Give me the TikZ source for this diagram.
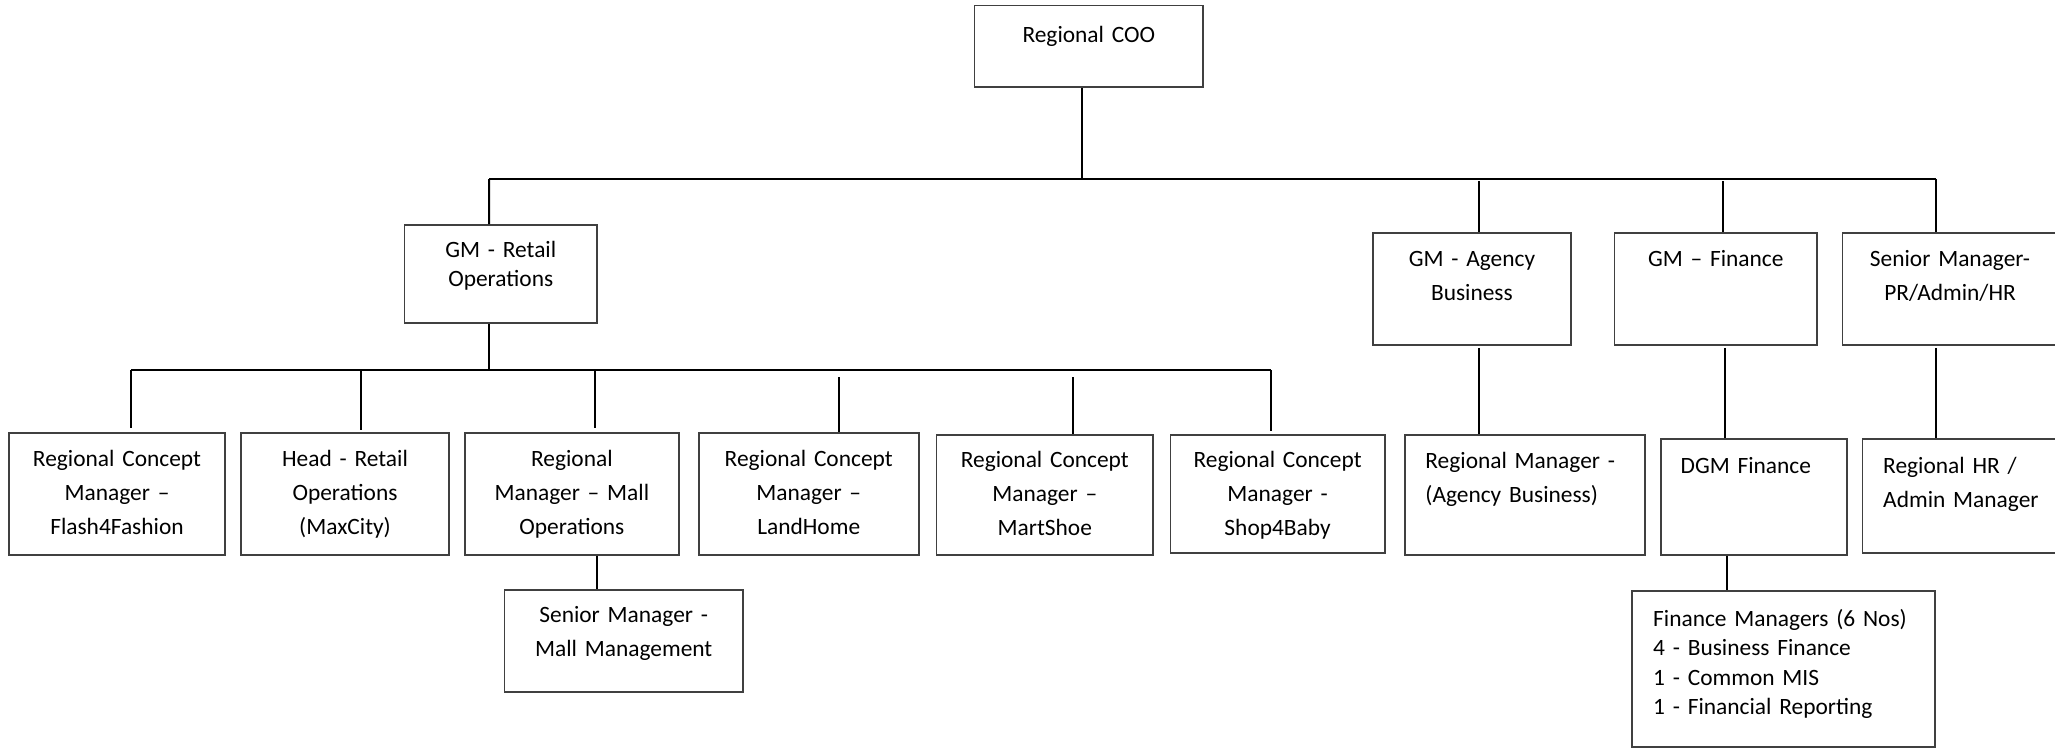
\documentclass[tikz,border=0pt]{standalone}
\usepackage{fontspec}
\setmainfont{Carlito}
\usepackage{tikz}
\usetikzlibrary{fit}
\tikzstyle{box} = [draw=black!75, line width=0.8pt, inner sep=0pt]
\tikzstyle{txt} = [inner sep=0pt, text width=110pt, align=center, anchor=base, font=\fontsize{11.7}{17}\selectfont]
\tikzstyle{ltxt} = [inner sep=0pt, text width=140pt, align=left, anchor=base west, font=\fontsize{11.7}{17}\selectfont]
\tikzstyle{conn} = [line width=1pt]
\begin{document}
\begin{tikzpicture}[x=0.5pt,y=-0.5pt]
			\useasboundingbox (0,0) rectangle (2055,749);
			\node[box, fit={(974.6,5.7) (1203,87.3)}] (coo) {};
			\node[box, fit={(404.5,225) (597,323)}] (gmr) {};
			\node[box, fit={(1372.8,233) (1571,345)}] (gma) {};
			\node[box, fit={(1614.5,233) (1817,345)}] (gmf) {};
			\node[box, fit={(1842.5,233) (2057.5,345)}] (smp) {};
			\node[box, fit={(9,433) (225,555)}] (rcf) {};
			\node[box, fit={(241,433) (449,555)}] (hro) {};
			\node[box, fit={(464.7,433) (679,555)}] (rmo) {};
			\node[box, fit={(698.7,433) (918.75,555)}] (rcl) {};
			\node[box, fit={(936.6,435) (1153,555)}] (rcm) {};
			\node[box, fit={(1170.5,435) (1384.7,553)}] (rcs) {};
			\node[box, fit={(1404.8,435) (1645,555)}] (rma) {};
			\node[box, fit={(1661,439) (1847,555)}] (dgm) {};
			\node[box, fit={(1862.6,439) (2060,553)}] (rhr) {};
			\node[box, fit={(504.5,590) (742.9,692)}] (smm) {};
			\node[box, fit={(1632,591) (1935,746.7)}] (fin) {};
			\node[txt] (coot) at ([yshift=-18.6pt]coo.north) {Regional COO};
			\node[txt, font=\fontsize{11.7}{14.35}\selectfont] (gmrt) at ([yshift=-16.8pt]gmr.north) {GM - Retail\\Operations};
			\node[txt] (gmat) at ([yshift=-17pt]gma.north) {GM - Agency\\Business};
			\node[txt] (gmft) at ([yshift=-17pt]gmf.north) {GM – Finance};
			\node[txt] (smpt) at ([yshift=-17pt]smp.north) {Senior Manager-\\PR/Admin/HR};
			\node[txt] (rcft) at ([yshift=-17pt]rcf.north) {Regional Concept\\Manager –\\Flash4Fashion};
			\node[txt] (hrot) at ([yshift=-17pt]hro.north) {Head - Retail\\Operations\\(MaxCity)};
			\node[txt] (rmot) at ([yshift=-17pt]rmo.north) {Regional\\Manager – Mall\\Operations};
			\node[txt] (rclt) at ([yshift=-17pt]rcl.north) {Regional Concept\\Manager –\\LandHome};
			\node[txt] (rcmt) at ([yshift=-16.8pt]rcm.north) {Regional Concept\\Manager –\\MartShoe};
			\node[txt] (rcst) at ([yshift=-16.8pt]rcs.north) {Regional Concept\\Manager -\\Shop4Baby};
			\node[txt] (smmt) at ([yshift=-16.8pt]smm.north) {Senior Manager -\\Mall Management};
			\node[ltxt] (rmat) at ([xshift=10.5pt,yshift=-17pt]rma.north west) {Regional Manager -\\(Agency Business)};
			\node[ltxt] (dgmt) at ([xshift=10pt,yshift=-17.6pt]dgm.north west) {DGM Finance};
			\node[ltxt] (rhrt) at ([xshift=10.5pt,yshift=-17.6pt]rhr.north west) {Regional HR /\\Admin Manager};
			\node[ltxt, font=\fontsize{11.7}{14.6}\selectfont] (fint) at ([xshift=10.8pt,yshift=-18.2pt]fin.north west) {Finance Managers (6 Nos)\\4 - Business Finance\\1 - Common MIS\\1 - Financial Reporting};
			\coordinate (tl) at (489,179);
			\coordinate (tr) at (1935.5,179);
			\draw[conn] (tl) -- (tr);
			\coordinate (c0) at ([xshift=-3.4pt]coo.south);
			\draw[line width=0.8pt] (c0) -- (c0 |- tl);
			\coordinate (c1) at ([xshift=-5.85pt]gmr.north);
			\draw[conn] (tl) -- (c1);
			\coordinate (c2) at ([xshift=3.35pt]gma.north);
			\draw[conn, shorten <=1pt] (c2 |- tl) -- (c2);
			\coordinate (c3) at ([xshift=3.6pt]gmf.north);
			\draw[conn, shorten <=1pt] (c3 |- tl) -- (c3);
			\draw[conn] (tr) -- (tr |- smp.north);
			\coordinate (bl) at (131,370.3);
			\coordinate (br) at (1270.5,370.3);
			\draw[conn] (bl) -- (br);
			\coordinate (c4) at ([xshift=-5.85pt]gmr.south);
			\draw[conn] (c4) -- (c4 |- bl);
			\draw[conn, shorten >=2pt] (bl) -- (bl |- rcf.north);
			\coordinate (c5) at ([xshift=8pt]hro.north);
			\draw[conn, shorten >=1pt] (c5 |- bl) -- (c5);
			\coordinate (c6) at ([xshift=11.4pt]rmo.north);
			\draw[conn, shorten >=2pt] (c6 |- bl) -- (c6);
			\coordinate (c7) at ([xshift=15.15pt]rcl.north);
			\draw[conn, shorten <=3.35pt] (c7 |- bl) -- (c7);
			\coordinate (c8) at ([xshift=14.1pt]rcm.north);
			\draw[conn, shorten <=3.35pt] (c8 |- bl) -- (c8);
			\draw[conn, shorten >=1.5pt] (br) -- (br |- rcs.north);
			\coordinate (c9) at ([xshift=12.6pt]rmo.south);
			\draw[conn] (c9) -- (c9 |- smm.north);
			\coordinate (c10) at ([xshift=3.35pt]gma.south);
			\draw[conn, shorten <=1pt] (c10) -- (c10 |- rma.north);
			\coordinate (c11) at ([xshift=4.6pt]gmf.south);
			\draw[conn, shorten <=1pt] (c11) -- (c11 |- dgm.north);
			\coordinate (c12) at ([xshift=-6.8pt]smp.south);
			\draw[conn, shorten <=1pt] (c12) -- (c12 |- rhr.north);
			\coordinate (c13) at ([xshift=-13.5pt]dgm.south);
			\draw[conn] (c13) -- (c13 |- fin.north);
		\end{tikzpicture}
\end{document}
